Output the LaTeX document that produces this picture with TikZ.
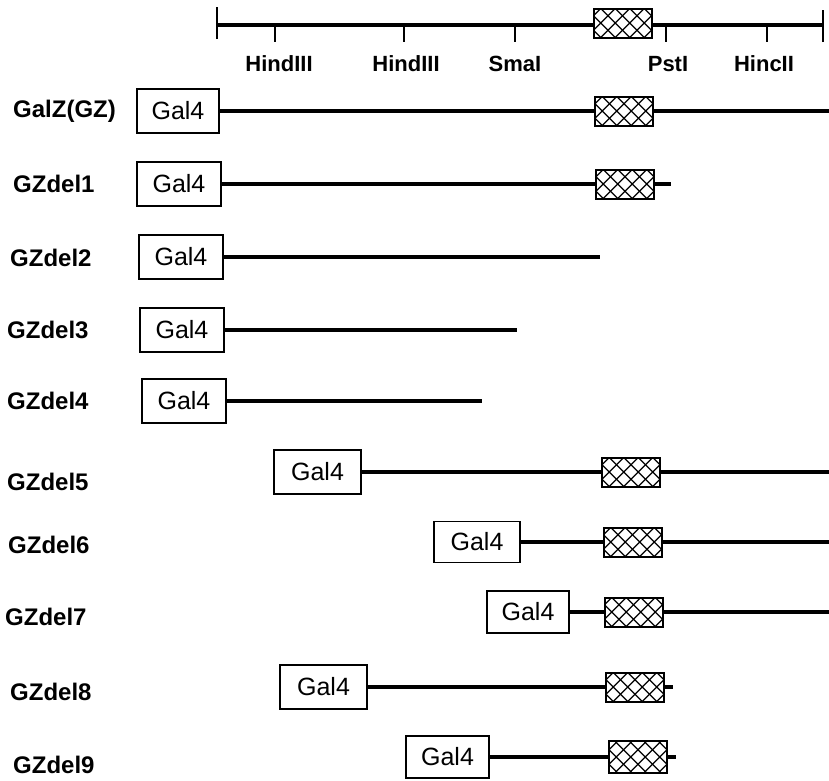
\documentclass[tikz,border=0pt]{standalone}
\usepackage{fontspec}
\setmainfont{Liberation Sans}
\begin{document}
\begin{tikzpicture}[x=1pt,y=-1pt,
  lbl/.style={font=\fontsize{24}{28}\selectfont\bfseries, anchor=west, inner sep=0pt},
  site/.style={font=\fontsize{22}{26}\selectfont\bfseries, inner sep=0pt},
  galbox/.style={draw, line width=1.4pt, minimum width=84pt, minimum height=44pt,
    inner sep=0pt, font=\fontsize{25}{29}\selectfont},
  hatchbox/.style={draw, line width=2pt, minimum width=58pt, minimum height=29pt, inner sep=0pt,
    path picture={
      \foreach \k in {-3,...,2}{
        \draw[line width=1.3pt] ([xshift={\k*14.5pt+7.25pt}]path picture bounding box.center)
          +(-20pt,-20pt) -- +(20pt,20pt) +(-20pt,20pt) -- +(20pt,-20pt);
      }}},
  dna/.style={line width=3.4pt},
  tick/.style={line width=2.8pt},
]
\useasboundingbox (0,0) rectangle (829,780);

% restriction map
\coordinate (rl) at (217,25);
\coordinate (rr) at (823,25);
\node[hatchbox] (rh) at (622.5,23) {};
\draw[dna] (rl) -- (rh.west |- rl) (rh.east |- rr) -- (rr);
\draw[tick] ([yshift=-14pt]rl) -- ([yshift=18pt]rl);
\draw[tick] ([yshift=-17pt]rr) -- ([yshift=15pt]rr);
\foreach \name/\x in {t1/275, t2/404, t3/515, t4/666, t5/767}{
  \coordinate (\name) at (\x,25);
  \draw[tick] (\name) -- ++(0,17);
}
\node[site] (s1) at (279,64) {HindIII};
\node[site] (s2) at (406,64) {HindIII};
\node[site] (s3) at (515,64) {SmaI};
\node[site] (s4) at (668,64) {PstI};
\node[site] (s5) at (764,64) {HincII};

% GalZ(GZ)
\node[lbl] (l0) at (13,111) {GalZ(GZ)};
\node[galbox, minimum width=82pt] (g0) at (178,111) {Gal4};
\node[hatchbox] (h0) at (624,111) {};
\coordinate (e0) at (829,111);
\draw[dna] (g0.east) -- (h0.west) (h0.east) -- (e0);

% GZdel1
\node[lbl] (l1) at (13,184) {GZdel1};
\node[galbox] (g1) at (179,184) {Gal4};
\node[hatchbox] (h1) at (625,184) {};
\coordinate (e1) at (671,184);
\draw[dna] (g1.east) -- (h1.west) (h1.east) -- (e1);

% GZdel2
\node[lbl] (l2) at (10,258) {GZdel2};
\node[galbox] (g2) at (181,257) {Gal4};
\coordinate (e2) at (600,257);
\draw[dna] (g2.east) -- (e2);

% GZdel3
\node[lbl] (l3) at (7,330) {GZdel3};
\node[galbox] (g3) at (182,330) {Gal4};
\coordinate (e3) at (517,330);
\draw[dna] (g3.east) -- (e3);

% GZdel4
\node[lbl] (l4) at (7,401) {GZdel4};
\node[galbox] (g4) at (184,401) {Gal4};
\coordinate (e4) at (482,401);
\draw[dna] (g4.east) -- (e4);

% GZdel5
\node[lbl] (l5) at (7,482) {GZdel5};
\node[galbox, minimum width=87pt] (g5) at (317.5,472) {Gal4};
\node[hatchbox] (h5) at (631,472) {};
\coordinate (e5) at (829,472);
\draw[dna] (g5.east) -- (h5.west) (h5.east) -- (e5);

% GZdel6
\node[lbl] (l6) at (8,545) {GZdel6};
\node[galbox, minimum width=86pt, minimum height=41pt] (g6) at (477,542) {Gal4};
\node[hatchbox] (h6) at (632.5,542) {};
\coordinate (e6) at (829,542);
\draw[dna] (g6.east) -- (h6.west) (h6.east) -- (e6);

% GZdel7
\node[lbl] (l7) at (5,617) {GZdel7};
\node[galbox, minimum width=82pt, minimum height=42pt] (g7) at (528,612) {Gal4};
\node[hatchbox] (h7) at (633.5,612) {};
\coordinate (e7) at (829,612);
\draw[dna, line width=4.8pt] (g7.east) -- (h7.west);
\draw[dna] (h7.east) -- (e7);

% GZdel8
\node[lbl] (l8) at (10,692) {GZdel8};
\node[galbox, minimum width=87pt] (g8) at (323.5,687) {Gal4};
\node[hatchbox] (h8) at (635,687) {};
\coordinate (e8) at (673,687);
\draw[dna] (g8.east) -- (h8.west) (h8.east) -- (e8);

% GZdel9
\node[lbl] (l9) at (13,765) {GZdel9};
\node[galbox, minimum width=83pt, minimum height=42pt] (g9) at (447.5,757) {Gal4};
\node[hatchbox, minimum height=32pt] (h9) at (638,757) {};
\coordinate (e9) at (676,757);
\draw[dna] (g9.east) -- (h9.west) (h9.east) -- (e9);
\end{tikzpicture}
\end{document}
